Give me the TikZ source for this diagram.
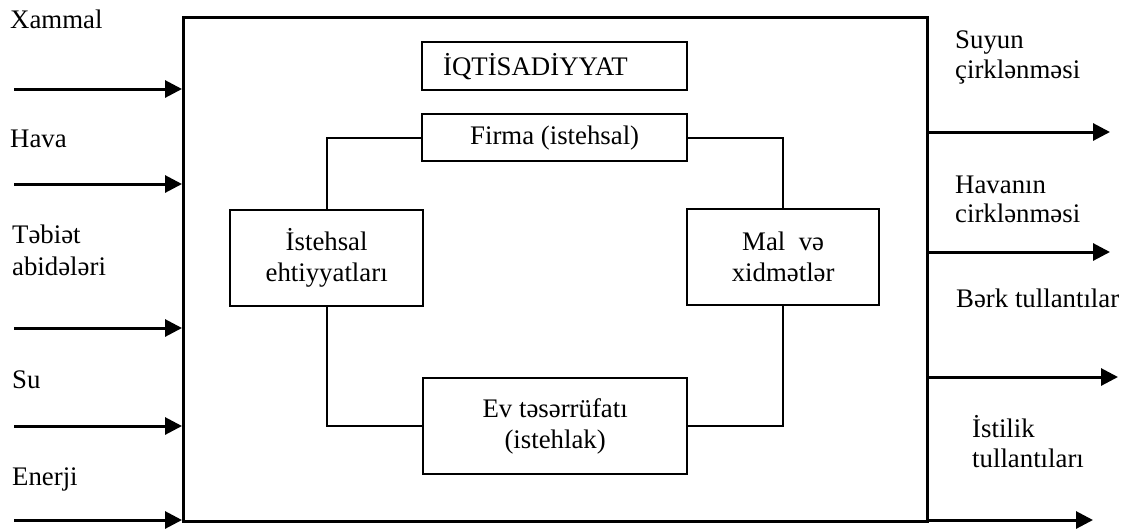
\documentclass[tikz,border=0pt]{standalone}
\usepackage{fontspec}
\setmainfont{Liberation Serif}
\usetikzlibrary{arrows.meta}
\begin{document}
\begin{tikzpicture}[x=1pt,y=-1pt,
  txt/.style={inner sep=0pt, font=\fontsize{26.8}{31}\selectfont},
  lbl/.style={txt, anchor=base west},
  boxn/.style={draw, line width=2.3pt, txt, align=center},
  conn/.style={line width=2.3pt},
  arr/.style={line width=3pt, -{Triangle[length=17pt,width=17pt]}}]
\useasboundingbox[fill=white] (0,0) rectangle (1129,531);
% main box
\node[draw, line width=2.5pt, minimum width=744pt, minimum height=504pt, inner sep=0pt, anchor=north west] (econ) at (182,16) {};
% inner boxes
\node[boxn, anchor=north west, text width=223pt, inner xsep=21pt, align=left, minimum height=48pt] (iqt) at (421,41) {İQTİSADİYYAT};
\node[boxn, anchor=north west, minimum width=265pt, minimum height=47pt] (firma) at (421,113) {Firma (istehsal)};
\node[boxn, anchor=north west, minimum width=193pt, minimum height=96pt] (ist) at (229,209) {İstehsal\\ehtiyyatları};
\node[boxn, anchor=north west, minimum width=192pt, minimum height=96pt] (mal) at (686,208) {Mal\ \ və\\xidmətlər};
\node[boxn, anchor=north west, minimum width=264pt, minimum height=96pt] (ev) at (422,377) {Ev təsərrüfatı\\(istehlak)};
% connectors
\draw[conn] (firma.west) -| (ist.north);
\draw[conn] (ist.south) |- (ev.west);
\draw[conn] (firma.east) -| (mal.north);
\draw[conn] (mal.south) |- (ev.east);
% input arrows
\coordinate (in1) at (14,89);
\coordinate (in2) at (14,184);
\coordinate (in3) at (14,328);
\coordinate (in4) at (14,426);
\coordinate (in5) at (14,520);
\foreach \c in {in1,in2,in3,in4,in5} \draw[arr] (\c) -- (\c -| econ.west);
% output arrows
\coordinate (out1) at (1110,132);
\coordinate (out2) at (1110,252);
\coordinate (out3) at (1118,377);
\coordinate (out4) at (1093,520);
\foreach \c in {out1,out2,out3,out4} \draw[arr] (\c -| econ.east) -- (\c);
% input labels
\node[lbl] (l1) at (10,28) {Xammal};
\node[lbl] (l2) at (10,147) {Hava};
\node[lbl] (l3a) at (12,243) {Təbiət};
\node[lbl] (l3b) at (12,275) {abidələri};
\node[lbl] (l4) at (12,388) {Su};
\node[lbl] (l5) at (12,485) {Enerji};
% output labels
\node[lbl] (r1a) at (955,48) {Suyun};
\node[lbl] (r1b) at (955,78) {çirklənməsi};
\node[lbl] (r2a) at (955,193) {Havanın};
\node[lbl] (r2b) at (955,222) {cirklənməsi};
\node[lbl] (r3) at (956,307) {Bərk tullantılar};
\node[lbl] (r4a) at (972,437) {İstilik};
\node[lbl] (r4b) at (972,467) {tullantıları};
\end{tikzpicture}
\end{document}
